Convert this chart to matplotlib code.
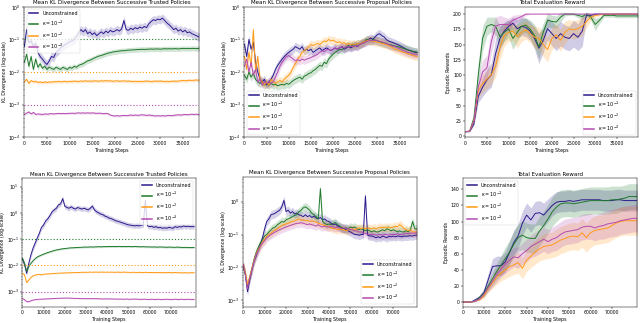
import numpy as np
import matplotlib
matplotlib.use("Agg")
import matplotlib.pyplot as plt

# ---------------- data ----------------
labels = ["Unconstrained", r"$\kappa = 10^{-1}$", r"$\kappa = 10^{-2}$", r"$\kappa = 10^{-3}$"]
colors = ["#2b1a8c", "#1f7a2c", "#ff9a16", "#b54bb0"]
kappas = [1e-1, 1e-2, 1e-3]

steps_top = np.arange(0, 39500, 500)        # 0 .. 39000
steps_bot = np.arange(0, 82000, 1000)       # 0 .. 81000
steps_rew_top = np.arange(0, 41000, 1000)   # 0 .. 40000
steps_rew_bot = np.arange(0, 84000, 2000)   # 0 .. 82000

# top-left: trusted policies (short run)
tl_unc = [0.06, 0.2, 0.08, 0.09, 0.06, 0.075, 0.04, 0.03, 0.025, 0.02,
          0.017, 0.022, 0.03, 0.028, 0.04, 0.045, 0.055, 0.06, 0.07, 0.075,
          0.085, 0.09, 0.1, 0.12, 0.16, 0.2, 0.17, 0.2, 0.15, 0.17,
          0.14, 0.16, 0.13, 0.15, 0.17, 0.15, 0.18, 0.16, 0.19, 0.17,
          0.18, 0.2, 0.18, 0.21, 0.38, 0.2, 0.19, 0.22, 0.2, 0.23,
          0.21, 0.24, 0.22, 0.25, 0.23, 0.3, 0.35, 0.4, 0.38, 0.42,
          0.4, 0.45, 0.38, 0.32, 0.28, 0.24, 0.2, 0.22, 0.18, 0.2,
          0.17, 0.19, 0.16, 0.17, 0.15, 0.14, 0.13, 0.12, 0.12]
tl_k1 = [0.02, 0.035, 0.015, 0.03, 0.012, 0.025, 0.014, 0.018, 0.013, 0.015,
         0.012, 0.014, 0.013, 0.012, 0.014, 0.013, 0.012, 0.014, 0.013, 0.012,
         0.014, 0.013, 0.015, 0.014, 0.016, 0.017, 0.018, 0.02, 0.022, 0.023,
         0.025, 0.027, 0.029, 0.031, 0.032, 0.034, 0.036, 0.038, 0.039, 0.041,
         0.042, 0.043, 0.044, 0.045, 0.045, 0.046, 0.047, 0.047, 0.048, 0.048,
         0.049, 0.049, 0.05, 0.049, 0.05, 0.05, 0.051, 0.05, 0.051, 0.051,
         0.05, 0.051, 0.052, 0.051, 0.052, 0.051, 0.052, 0.052, 0.051, 0.052,
         0.053, 0.052, 0.053, 0.052, 0.053, 0.053, 0.052, 0.053, 0.053]
tl_k2 = [0.005, 0.006, 0.0045, 0.0055, 0.005, 0.0052, 0.0048, 0.005, 0.0047, 0.005,
         0.0048, 0.005, 0.0049, 0.0051, 0.005, 0.0052, 0.005, 0.0051, 0.0052, 0.005,
         0.0052, 0.0051, 0.0053, 0.0052, 0.0051, 0.0053, 0.0052, 0.0054, 0.0052, 0.0053,
         0.0052, 0.0054, 0.0053, 0.0052, 0.0054, 0.0053, 0.0055, 0.0053, 0.0054, 0.0052,
         0.0053, 0.0054, 0.0052, 0.0053, 0.0054, 0.0052, 0.0053, 0.0052, 0.0051, 0.0052,
         0.0051, 0.0052, 0.0051, 0.0052, 0.0053, 0.0052, 0.0051, 0.0052, 0.0053, 0.0052,
         0.0053, 0.0052, 0.0051, 0.0052, 0.0051, 0.0052, 0.0053, 0.0052, 0.0053, 0.0054,
         0.0055, 0.0054, 0.0055, 0.0056, 0.0055, 0.0056, 0.0057, 0.0056, 0.0056]
tl_k3 = [0.0005, 0.00055, 0.0006, 0.00052, 0.00058, 0.0005, 0.00052, 0.00051, 0.0005, 0.00052,
         0.00051, 0.00052, 0.00053, 0.00052, 0.00053, 0.00054, 0.00053, 0.00054, 0.00053, 0.00054,
         0.00054, 0.00055, 0.00054, 0.00055, 0.00056, 0.00055, 0.00056, 0.00055, 0.00056, 0.00055,
         0.00056, 0.00055, 0.00054, 0.00055, 0.00054, 0.00053, 0.00054, 0.00053, 0.00048, 0.00046,
         0.00045, 0.00046, 0.00045, 0.00046, 0.00047, 0.00046, 0.00047, 0.00048, 0.00047, 0.00048,
         0.00047, 0.00048, 0.00049, 0.00048, 0.00047, 0.00048, 0.00047, 0.00046, 0.00045, 0.00046,
         0.00045, 0.00046, 0.00045, 0.00046, 0.00047, 0.00046, 0.00047, 0.00048, 0.00049, 0.00048,
         0.00049, 0.0005, 0.00049, 0.0005, 0.00051, 0.0005, 0.00051, 0.0005, 0.0005]

# top-middle: proposal policies (short run)
tm_unc = [0.07, 0.03, 0.1, 0.05, 0.08, 0.02, 0.01, 0.006, 0.005, 0.006,
          0.004, 0.005, 0.006, 0.008, 0.012, 0.016, 0.02, 0.025, 0.03, 0.035,
          0.04, 0.045, 0.05, 0.06, 0.055, 0.05, 0.06, 0.045, 0.05, 0.045,
          0.05, 0.04, 0.045, 0.05, 0.055, 0.045, 0.05, 0.055, 0.05, 0.045,
          0.05, 0.055, 0.05, 0.055, 0.06, 0.05, 0.055, 0.06, 0.055, 0.06,
          0.065, 0.06, 0.07, 0.075, 0.08, 0.09, 0.1, 0.11, 0.1, 0.12,
          0.14, 0.15, 0.13, 0.12, 0.1, 0.09, 0.085, 0.08, 0.075, 0.07,
          0.065, 0.06, 0.055, 0.05, 0.047, 0.045, 0.042, 0.04, 0.039]
tm_k1 = [0.008, 0.006, 0.01, 0.007, 0.009, 0.006, 0.005, 0.0045, 0.005, 0.004,
         0.0045, 0.004, 0.0045, 0.004, 0.0042, 0.0038, 0.004, 0.0042, 0.004, 0.0045,
         0.0042, 0.0048, 0.0055, 0.006, 0.0065, 0.007, 0.006, 0.0075, 0.008, 0.009,
         0.0095, 0.011, 0.012, 0.014, 0.016, 0.015, 0.02, 0.018, 0.025, 0.03,
         0.035, 0.04, 0.045, 0.05, 0.048, 0.055, 0.06, 0.065, 0.06, 0.07,
         0.065, 0.075, 0.07, 0.08, 0.085, 0.1, 0.095, 0.09, 0.1, 0.095,
         0.09, 0.085, 0.08, 0.078, 0.075, 0.07, 0.068, 0.065, 0.062, 0.06,
         0.058, 0.055, 0.052, 0.05, 0.047, 0.045, 0.043, 0.042, 0.041]
tm_k2 = [0.03, 0.012, 0.04, 0.015, 0.2, 0.01, 0.03, 0.006, 0.005, 0.004,
         0.005, 0.004, 0.006, 0.005, 0.0045, 0.005, 0.0055, 0.005, 0.006, 0.007,
         0.008, 0.01, 0.014, 0.018, 0.025, 0.03, 0.04, 0.045, 0.05, 0.06,
         0.07, 0.065, 0.07, 0.075, 0.07, 0.08, 0.09, 0.085, 0.1, 0.09,
         0.095, 0.085, 0.08, 0.085, 0.075, 0.08, 0.07, 0.075, 0.07, 0.072,
         0.07, 0.075, 0.072, 0.08, 0.085, 0.09, 0.095, 0.09, 0.088, 0.085,
         0.082, 0.08, 0.075, 0.072, 0.07, 0.065, 0.06, 0.055, 0.05, 0.048,
         0.045, 0.042, 0.04, 0.038, 0.036, 0.034, 0.032, 0.031, 0.03]
tm_k3 = [0.015, 0.025, 0.01, 0.02, 0.008, 0.012, 0.005, 0.006, 0.004, 0.005,
         0.0045, 0.005, 0.0045, 0.005, 0.007, 0.01, 0.015, 0.02, 0.025, 0.03,
         0.032, 0.028, 0.025, 0.022, 0.024, 0.022, 0.025, 0.023, 0.025, 0.026,
         0.028, 0.03, 0.032, 0.035, 0.04, 0.045, 0.042, 0.048, 0.05, 0.045,
         0.05, 0.055, 0.05, 0.055, 0.06, 0.055, 0.06, 0.058, 0.062, 0.06,
         0.065, 0.062, 0.07, 0.075, 0.08, 0.085, 0.09, 0.095, 0.092, 0.095,
         0.09, 0.088, 0.085, 0.08, 0.075, 0.07, 0.065, 0.062, 0.06, 0.056,
         0.052, 0.048, 0.045, 0.042, 0.04, 0.038, 0.036, 0.035, 0.034]

# top-right: evaluation reward (short run)
tr_unc = [7, 7, 20, 65, 80, 92, 100, 135, 160, 172,
          180, 185, 176, 180, 178, 172, 160, 144, 157, 176,
          168, 160, 168, 162, 160, 168, 162, 172, 198, 198,
          200, 200, 200, 200, 200, 200, 200, 200, 200, 200, 200]
tr_k1 = [7, 8, 30, 100, 160, 180, 183, 180, 163, 170,
         176, 160, 170, 180, 182, 175, 165, 146, 170, 190,
         188, 187, 195, 200, 200, 200, 198, 196, 200, 195,
         183, 190, 198, 198, 198, 197, 197, 197, 197, 197, 197]
tr_k2 = [7, 8, 25, 75, 86, 93, 100, 115, 145, 165,
         170, 172, 163, 170, 174, 168, 162, 160, 150, 142,
         160, 166, 157, 170, 176, 174, 176, 180, 188, 195,
         198, 199, 200, 200, 200, 200, 200, 200, 200, 200, 200]
tr_k3 = [7, 8, 25, 80, 105, 112, 155, 180, 183, 183,
         183, 190, 193, 196, 200, 200, 200, 200, 200, 200,
         200, 200, 200, 200, 200, 200, 200, 200, 200, 200,
         200, 200, 200, 200, 200, 200, 200, 200, 200, 200, 200]
tr_unc_sd = [0, 0, 3, 10, 15, 18, 20, 25, 20, 15, 10, 10, 15, 15, 15, 15, 18, 25, 20, 18,
             20, 20, 20, 20, 20, 22, 22, 25, 5, 3, 2, 1, 0, 0, 0, 0, 0, 0, 0, 0, 0]
tr_k1_sd = [0, 0, 5, 20, 20, 15, 12, 15, 18, 15, 15, 18, 15, 12, 12, 15, 18, 20, 15, 12,
            10, 10, 8, 3, 2, 2, 4, 5, 3, 5, 10, 5, 3, 3, 3, 3, 3, 3, 3, 3, 3]
tr_k2_sd = [0, 0, 4, 12, 15, 15, 15, 18, 20, 18, 15, 15, 18, 15, 15, 15, 18, 18, 20, 20,
            18, 18, 18, 18, 15, 15, 15, 15, 10, 5, 3, 2, 1, 0, 0, 0, 0, 0, 0, 0, 0]
tr_k3_sd = [0, 0, 4, 15, 20, 20, 20, 15, 15, 12, 10, 8, 6, 4, 2, 0, 0, 0, 0, 0,
            0, 0, 0, 0, 0, 0, 0, 0, 0, 0, 0, 0, 0, 0, 0, 0, 0, 0, 0, 0, 0]

# bottom-left: trusted policies (long run)
bl_unc = [0.017, 0.011, 0.005, 0.012, 0.025, 0.045, 0.07, 0.11, 0.17, 0.28,
          0.35, 0.5, 0.6, 0.8, 1.1, 1.3, 1.5, 2.0, 2.2, 3.5,
          1.8, 1.6, 1.5, 1.7, 1.5, 1.4, 1.6, 1.5, 1.4, 1.5,
          1.4, 1.3, 1.5, 1.8, 1.3, 1.1, 1.0, 0.9, 0.85, 0.75,
          0.7, 0.63, 0.6, 0.55, 0.5, 0.48, 0.45, 0.42, 0.4, 0.37,
          0.35, 0.34, 0.33, 0.32, 0.33, 0.32, 0.34, 0.35, 3.0, 0.32,
          0.3, 0.31, 0.28, 0.3, 0.27, 0.28, 0.26, 0.27, 0.26, 0.28,
          0.27, 0.26, 0.3, 0.28, 0.3, 0.29, 0.32, 0.3, 0.31, 0.3,
          0.3, 0.3]
bl_k1 = [0.019, 0.012, 0.006, 0.009, 0.012, 0.015, 0.018, 0.021, 0.023, 0.025,
         0.027, 0.029, 0.031, 0.033, 0.035, 0.037, 0.039, 0.04, 0.042, 0.043,
         0.044, 0.045, 0.046, 0.047, 0.047, 0.048, 0.048, 0.049, 0.049, 0.05,
         0.05, 0.05, 0.051, 0.05, 0.051, 0.051, 0.052, 0.051, 0.052, 0.052,
         0.052, 0.053, 0.052, 0.053, 0.052, 0.053, 0.053, 0.052, 0.053, 0.052,
         0.053, 0.052, 0.052, 0.053, 0.052, 0.052, 0.051, 0.052, 0.051, 0.051,
         0.051, 0.05, 0.051, 0.05, 0.05, 0.051, 0.05, 0.05, 0.049, 0.05,
         0.05, 0.049, 0.049, 0.05, 0.049, 0.049, 0.048, 0.049, 0.048, 0.048,
         0.048, 0.048]
bl_k2 = [0.005, 0.0044, 0.0022, 0.0028, 0.0035, 0.004, 0.0043, 0.0045, 0.0046, 0.0044,
         0.0046, 0.0047, 0.0048, 0.0048, 0.0049, 0.005, 0.005, 0.0051, 0.0051, 0.0052,
         0.0052, 0.0052, 0.0053, 0.0053, 0.0053, 0.0054, 0.0054, 0.0054, 0.0055, 0.0055,
         0.0055, 0.0055, 0.0056, 0.0055, 0.0056, 0.0056, 0.0055, 0.0056, 0.0056, 0.0055,
         0.0056, 0.0055, 0.0056, 0.0055, 0.0055, 0.0056, 0.0055, 0.0055, 0.0056, 0.0055,
         0.0055, 0.0054, 0.0055, 0.0055, 0.0054, 0.0055, 0.0054, 0.0054, 0.0055, 0.0054,
         0.0054, 0.0054, 0.0053, 0.0054, 0.0054, 0.0053, 0.0054, 0.0053, 0.0053, 0.0054,
         0.0053, 0.0053, 0.0054, 0.0053, 0.0053, 0.0052, 0.0053, 0.0053, 0.0052, 0.0053,
         0.0053, 0.0053]
bl_k3 = [0.00055, 0.0005, 0.00042, 0.00042, 0.00045, 0.00048, 0.0005, 0.00051, 0.00052, 0.00052,
         0.00053, 0.00053, 0.00054, 0.00054, 0.00055, 0.00055, 0.00056, 0.00056, 0.00057, 0.00057,
         0.00057, 0.00058, 0.00057, 0.00057, 0.00056, 0.00056, 0.00056, 0.00055, 0.00055, 0.00055,
         0.00055, 0.00054, 0.00055, 0.00054, 0.00055, 0.00054, 0.00054, 0.00054, 0.00053, 0.00054,
         0.00053, 0.00054, 0.00053, 0.00053, 0.00053, 0.00052, 0.00053, 0.00052, 0.00052, 0.00053,
         0.00052, 0.00052, 0.00052, 0.00053, 0.00052, 0.00052, 0.00051, 0.00052, 0.00052, 0.00051,
         0.00051, 0.00052, 0.00051, 0.00051, 0.00052, 0.00051, 0.00051, 0.00051, 0.00052, 0.00051,
         0.00051, 0.00051, 0.00052, 0.00051, 0.00051, 0.00052, 0.00051, 0.00051, 0.00052, 0.00051,
         0.00051, 0.00051]

# bottom-middle: proposal policies (long run)
bm_unc = [0.012, 0.006, 0.0018, 0.004, 0.008, 0.015, 0.022, 0.035, 0.05, 0.08,
          0.15, 0.25, 0.3, 0.4, 0.42, 0.45, 0.5, 0.55, 0.7, 1.1,
          0.5, 0.55, 0.45, 0.5, 0.42, 0.45, 0.4, 0.38, 0.35, 0.4,
          0.35, 0.38, 0.33, 0.36, 0.32, 0.3, 0.33, 0.28, 0.3, 0.26,
          0.25, 0.22, 0.2, 0.21, 0.18, 0.17, 0.16, 0.15, 0.14, 0.13,
          0.12, 0.11, 0.1, 0.1, 0.095, 0.1, 0.1, 1.5, 0.095, 0.09,
          0.09, 0.085, 0.08, 0.085, 0.08, 0.09, 0.085, 0.08, 0.088, 0.085,
          0.09, 0.085, 0.09, 0.088, 0.085, 0.09, 0.088, 0.09, 0.092, 0.09,
          0.095, 0.095]
bm_k1 = [0.011, 0.006, 0.0025, 0.005, 0.009, 0.017, 0.028, 0.04, 0.055, 0.07,
         0.09, 0.1, 0.12, 0.14, 0.16, 0.17, 0.2, 0.22, 0.25, 0.24,
         0.28, 0.3, 0.32, 0.35, 0.38, 0.4, 0.5, 0.55, 0.65, 0.7,
         0.63, 0.55, 0.45, 0.4, 0.35, 0.3, 2.5, 0.25, 0.22, 0.2,
         0.21, 0.2, 0.22, 0.23, 0.2, 0.18, 0.16, 0.15, 0.16, 0.15,
         0.17, 0.16, 0.17, 0.15, 0.14, 0.15, 0.14, 0.13, 0.14, 0.13,
         0.12, 0.13, 0.12, 0.12, 0.13, 0.14, 0.13, 0.15, 0.14, 0.13,
         0.14, 0.13, 0.12, 0.13, 0.12, 0.12, 0.13, 0.12, 0.14, 0.25,
         0.15, 0.15]
bm_k2 = [0.012, 0.007, 0.003, 0.005, 0.009, 0.016, 0.025, 0.035, 0.045, 0.06,
         0.07, 0.09, 0.1, 0.11, 0.125, 0.14, 0.15, 0.17, 0.19, 0.2,
         0.21, 0.22, 0.24, 0.25, 0.26, 0.28, 0.3, 0.27, 0.28, 0.26,
         0.27, 0.25, 0.26, 0.25, 0.24, 0.22, 0.21, 0.2, 0.19, 0.18,
         0.17, 0.16, 0.15, 0.15, 0.14, 0.15, 0.14, 0.14, 0.13, 0.14,
         0.14, 0.15, 0.14, 0.15, 0.16, 0.15, 0.16, 0.15, 0.16, 0.15,
         0.15, 0.16, 0.15, 0.16, 0.17, 0.16, 0.17, 0.16, 0.17, 0.16,
         0.17, 0.18, 0.17, 0.2, 0.18, 0.15, 0.14, 0.13, 0.14, 0.12,
         0.12, 0.12]
bm_k3 = [0.012, 0.006, 0.0022, 0.0045, 0.008, 0.015, 0.024, 0.032, 0.045, 0.055,
         0.065, 0.08, 0.09, 0.1, 0.11, 0.12, 0.13, 0.14, 0.15, 0.16,
         0.17, 0.18, 0.19, 0.2, 0.21, 0.22, 0.22, 0.23, 0.22, 0.21,
         0.2, 0.21, 0.2, 0.19, 0.18, 0.2, 0.18, 0.17, 0.18, 0.17,
         0.17, 0.18, 0.17, 0.16, 0.17, 0.16, 0.15, 0.16, 0.15, 0.15,
         0.14, 0.14, 0.13, 0.13, 0.12, 0.12, 0.11, 0.11, 0.1, 0.1,
         0.1, 0.1, 0.095, 0.1, 0.1, 0.095, 0.1, 0.1, 0.095, 0.1,
         0.1, 0.1, 0.105, 0.1, 0.1, 0.105, 0.11, 0.105, 0.11, 0.11,
         0.11, 0.11]

# bottom-right: evaluation reward (long run)
br_unc = [0, 0, 0, 3, 6, 12, 28, 44, 45, 45,
          50, 62, 74, 82, 98, 108, 102, 110, 111, 108,
          114, 120, 124, 125, 125, 126, 125, 126, 127, 127,
          127, 127, 127, 126, 126, 126, 127, 127, 126, 126, 126, 126]
br_k1 = [0, 0, 0, 0.5, 6, 11, 20, 29, 38, 46,
         54, 62, 72, 80, 83, 80, 79, 79, 88, 95,
         103, 112, 118, 122, 123, 123, 122, 123, 124, 125,
         126, 126, 126, 126, 126, 127, 127, 128, 129, 131, 131, 131]
br_k2 = [0, 0, 0, 1, 3, 8, 17, 24, 31, 36,
         40, 44, 46, 49, 42, 52, 57, 62, 66, 69,
         70, 71, 74, 77, 79, 81, 82, 81, 86, 80,
         86, 89, 90, 91, 92, 95, 98, 100, 101, 101, 101, 101]
br_k3 = [0, 0, 0, 1, 4, 10, 18, 26, 34, 41,
         47, 52, 56, 55, 60, 64, 69, 72, 75, 78,
         75, 78, 80, 84, 87, 88, 89, 90, 93, 94,
         94, 92, 94, 95, 97, 98, 99, 101, 102, 103, 104, 104]
br_unc_sd = [0, 0, 0, 1, 3, 5, 8, 10, 12, 12, 13, 14, 15, 15, 15, 15, 15, 15, 15, 15,
             14, 13, 13, 13, 13, 13, 13, 13, 13, 13, 13, 13, 13, 13, 13, 13, 13, 13, 13, 13, 13, 13]
br_k1_sd = [0, 0, 0, 0, 2, 4, 6, 8, 10, 12, 14, 15, 16, 17, 18, 18, 18, 18, 18, 18,
            18, 18, 18, 17, 17, 17, 17, 17, 17, 17, 17, 17, 17, 17, 17, 17, 17, 16, 16, 16, 16, 16]
br_k2_sd = [0, 0, 0, 0, 1, 3, 5, 7, 9, 10, 11, 12, 12, 13, 13, 14, 14, 15, 15, 16,
            16, 16, 17, 17, 17, 17, 17, 17, 18, 18, 18, 18, 18, 18, 18, 18, 18, 18, 18, 18, 18, 18]
br_k3_sd = [0, 0, 0, 0, 1, 3, 5, 7, 9, 10, 11, 12, 12, 13, 13, 14, 14, 15, 15, 15,
            15, 15, 16, 16, 16, 16, 16, 16, 16, 16, 16, 16, 16, 17, 17, 17, 17, 17, 17, 17, 17, 17]

# multiplicative half-width of the shaded band on the KL panels
tl_spread = [1.35, 1.2, 1.12, 1.08]
tm_spread = [1.35, 1.35, 1.35, 1.35]
bl_spread = [1.25, 1.08, 1.05, 1.04]
bm_spread = [1.35, 1.35, 1.35, 1.35]

# ---------------- style ----------------
plt.rcParams.update({
    "font.family": "DejaVu Sans",
    "axes.linewidth": 0.35,
    "xtick.major.width": 0.35, "ytick.major.width": 0.35,
    "xtick.minor.width": 0.25, "ytick.minor.width": 0.25,
    "xtick.major.size": 1.3, "ytick.major.size": 1.3,
    "xtick.minor.size": 0.7, "ytick.minor.size": 0.7,
    "xtick.major.pad": 1.2, "ytick.major.pad": 1.2,
    "xtick.labelsize": 3.3, "ytick.labelsize": 3.3,
    "axes.labelsize": 3.4, "axes.titlesize": 4.0,
    "axes.titlepad": 2.0, "axes.labelpad": 1.3,
    "patch.linewidth": 0.35,
})
LW = 0.7
LEG_FS = 3.5

fig = plt.figure(figsize=(6.4, 3.23), dpi=100)

def kl_panel(rect, title, steps, series, spread, xlim, ylim, xticks, legend_loc, dotted):
    ax = fig.add_axes(rect)
    for y, c, lab, f in zip(series, colors, labels, spread):
        y = np.asarray(y, dtype=float)
        ax.fill_between(steps, y / f, y * f, color=c, alpha=0.2, linewidth=0)
        ax.plot(steps, y, color=c, lw=LW, label=lab)
    if dotted:
        for k, c in zip(kappas, colors[1:]):
            ax.axhline(k, color=c, lw=0.8, ls=(0, (1, 1.8)))
    ax.set_yscale("log")
    ax.set_xlim(*xlim)
    ax.set_ylim(*ylim)
    ax.set_xticks(xticks)
    ax.set_title(title)
    ax.set_xlabel("Training Steps")
    ax.set_ylabel("KL Divergence (log-scale)")
    leg = ax.legend(loc=legend_loc, fontsize=LEG_FS)
    for h in leg.get_lines():
        h.set_linewidth(1.1)
    return ax

def rew_panel(rect, steps, series, sds, xlim, ylim, xticks, yticks, legend_loc):
    ax = fig.add_axes(rect)
    for y, sd, c, lab in zip(series, sds, colors, labels):
        y = np.asarray(y, dtype=float)
        sd = np.asarray(sd, dtype=float)
        ax.fill_between(steps, y - sd, y + sd, color=c, alpha=0.22, linewidth=0)
        ax.plot(steps, y, color=c, lw=LW, label=lab)
    ax.set_xlim(*xlim)
    ax.set_ylim(*ylim)
    ax.set_xticks(xticks)
    ax.set_yticks(yticks)
    ax.set_title("Total Evaluation Reward")
    ax.set_xlabel("Training Steps")
    ax.set_ylabel("Episodic Rewards")
    leg = ax.legend(loc=legend_loc, fontsize=LEG_FS)
    for h in leg.get_lines():
        h.set_linewidth(1.1)
    return ax

top_ticks = np.arange(0, 40000, 5000)
bot_ticks = np.arange(0, 80000, 10000)

kl_panel([0.038, 0.575, 0.273, 0.404], "Mean KL Divergence Between Successive Trusted Policies",
         steps_top, [tl_unc, tl_k1, tl_k2, tl_k3], tl_spread, (0, 38600), (1e-4, 1e0),
         top_ticks, "upper left", True)
kl_panel([0.382, 0.575, 0.272, 0.404], "Mean KL Divergence Between Successive Proposal Policies",
         steps_top, [tm_unc, tm_k1, tm_k2, tm_k3], tm_spread, (0, 39300), (1e-4, 1e0),
         top_ticks, "lower left", False)
rew_panel([0.727, 0.575, 0.270, 0.404], steps_rew_top, [tr_unc, tr_k1, tr_k2, tr_k3],
          [tr_unc_sd, tr_k1_sd, tr_k2_sd, tr_k3_sd], (0, 39900), (-2.1, 212),
          top_ticks, np.arange(0, 201, 25), "lower right")

kl_panel([0.035, 0.0505, 0.271, 0.3975], "Mean KL Divergence Between Successive Trusted Policies",
         steps_bot, [bl_unc, bl_k1, bl_k2, bl_k3], bl_spread, (0, 81800), (2.7e-4, 20.7),
         bot_ticks, "upper right", True)
kl_panel([0.380, 0.0505, 0.271, 0.4025], "Mean KL Divergence Between Successive Proposal Policies",
         steps_bot, [bm_unc, bm_k1, bm_k2, bm_k3], bm_spread, (0, 80900), (6.3e-4, 5.8),
         bot_ticks, "lower right", False)
rew_panel([0.723, 0.0505, 0.272, 0.3975], steps_rew_bot, [br_unc, br_k1, br_k2, br_k3],
          [br_unc_sd, br_k1_sd, br_k2_sd, br_k3_sd], (0, 81700), (-5.8, 153.7),
          bot_ticks, np.arange(0, 141, 20), "upper left")

fig.savefig("out.png", dpi=100)
